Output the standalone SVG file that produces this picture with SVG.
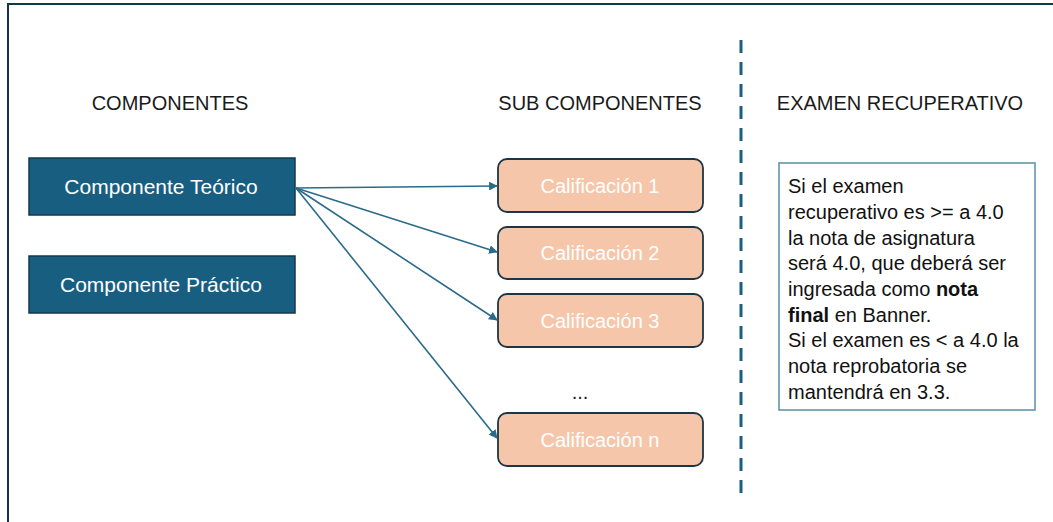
<svg xmlns="http://www.w3.org/2000/svg" width="1053" height="522" viewBox="0 0 1053 522">
<defs>
<style>
.hdr{font-family:"Liberation Sans",Arial,sans-serif;font-size:20px;fill:#1a1a1a;text-anchor:middle}
.comp rect{fill:#185e80;stroke:#12394b;stroke-width:1.5}
.comp text{font-family:"Liberation Sans",Arial,sans-serif;font-size:21px;fill:#ffffff;text-anchor:middle}
.sub rect{fill:#f5c6a9;stroke:#1d3645;stroke-width:1.8}
.sub text{font-family:"Liberation Sans",Arial,sans-serif;font-size:20px;fill:#ffffff;text-anchor:middle}
.conn line{stroke:#2a6b8b;stroke-width:1.6;fill:none;marker-end:url(#ah)}
.note text{font-family:"Liberation Sans",Arial,sans-serif;font-size:20px;fill:#111111}
</style>
<marker id="ah" viewBox="0 0 10 10" refX="9" refY="5" markerWidth="5.5" markerHeight="5.5" orient="auto" markerUnits="strokeWidth">
<path d="M0,0 L10,5 L0,10 z" fill="#2a6b8b"/>
</marker>
</defs>
<rect width="1053" height="522" fill="#ffffff"/>
<path d="M8,522 L8,4 L1053,4" fill="none" stroke="#12394b" stroke-width="2"/>
<g id="headers">
<text class="hdr" x="170" y="110">COMPONENTES</text>
<text class="hdr" x="600" y="110">SUB COMPONENTES</text>
<text class="hdr" x="900" y="110">EXAMEN RECUPERATIVO</text>
</g>
<line id="divider" x1="741" y1="40" x2="741" y2="494" stroke="#1b5f80" stroke-width="3" stroke-dasharray="13,9"/>
<g id="n-teorico" class="comp"><rect x="29" y="158" width="266" height="57"/><text x="161" y="194">Componente Teórico</text></g>
<g id="n-practico" class="comp"><rect x="29" y="256" width="266" height="57"/><text x="161" y="292">Componente Práctico</text></g>
<g id="n-c1" class="sub"><rect x="498" y="159" width="205" height="53" rx="9"/><text x="600" y="193">Calificación 1</text></g>
<g id="n-c2" class="sub"><rect x="498" y="227" width="205" height="52" rx="9"/><text x="600" y="260">Calificación 2</text></g>
<g id="n-c3" class="sub"><rect x="498" y="294" width="205" height="53" rx="9"/><text x="600" y="328">Calificación 3</text></g>
<text id="dots" x="580" y="399" font-family="Liberation Sans, Arial, sans-serif" font-size="20" fill="#1a1a1a" text-anchor="middle">...</text>
<g id="n-cn" class="sub"><rect x="498" y="413" width="205" height="53" rx="9"/><text x="600" y="447">Calificación n</text></g>
<g id="connectors" class="conn">
<line x1="296" y1="188" x2="497" y2="186"/>
<line x1="296" y1="188" x2="497" y2="252"/>
<line x1="296" y1="188" x2="497" y2="320"/>
<line x1="296" y1="188" x2="497" y2="438"/>
</g>
<g id="n-note" class="note">
<rect x="779" y="163" width="256" height="247" fill="#ffffff" stroke="#5a8ea8" stroke-width="1.5"/>
<text x="788" y="193">Si el examen</text>
<text x="788" y="219">recuperativo es &gt;= a 4.0</text>
<text x="788" y="245">la nota de asignatura</text>
<text x="788" y="270">será 4.0, que deberá ser</text>
<text x="788" y="296">ingresada como <tspan font-weight="bold">nota</tspan></text>
<text x="788" y="322"><tspan font-weight="bold">final</tspan> en Banner.</text>
<text x="788" y="347">Si el examen es &lt; a 4.0 la</text>
<text x="788" y="373">nota reprobatoria se</text>
<text x="788" y="399">mantendrá en 3.3.</text>
</g>
</svg>
